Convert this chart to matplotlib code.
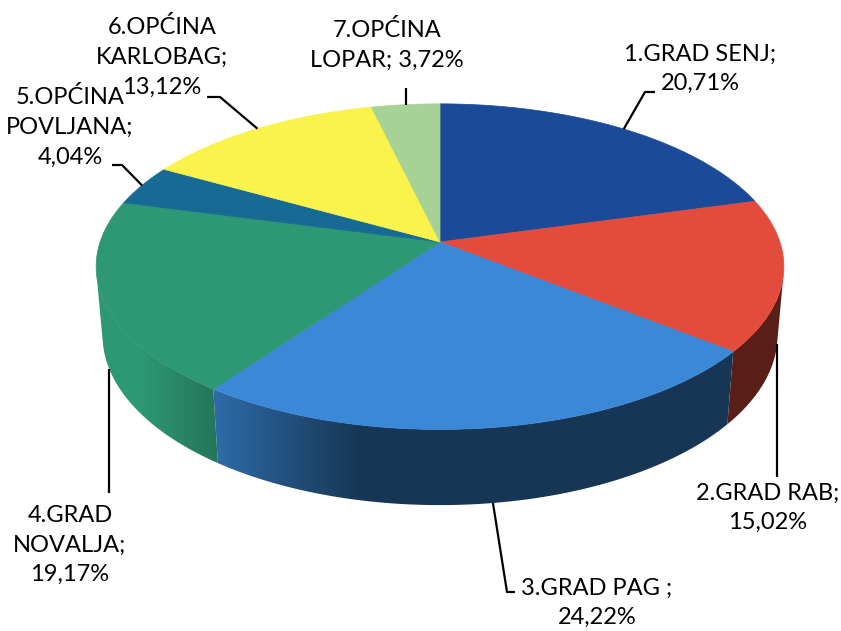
import numpy as np
import matplotlib.pyplot as plt
from matplotlib.patches import Polygon
from matplotlib.colors import to_rgb

plt.rcParams['font.family'] = ['Lato', 'DejaVu Sans']

# podaci
names = ["1.GRAD SENJ;", "2.GRAD RAB;", "3.GRAD PAG ;", "4.GRAD\nNOVALJA;",
         "5.OPĆINA\nPOVLJANA;", "6.OPĆINA\nKARLOBAG;", "7.OPĆINA\nLOPAR;"]
values = [20.71, 15.02, 24.22, 19.17, 4.04, 13.12, 3.72]
colors = ["#1b4a98", "#e34b3c", "#3b89d6", "#2e9874", "#166a94", "#faf34b", "#a6d395"]

# 3D pogled (perspektiva)
D = 5.84
phi = np.radians(27.9)
scale = 1985
cx, cy = 440, 242
thick = 0.23


def project(theta_deg, z):
    t = np.radians(theta_deg)
    X, Y = np.cos(t), np.sin(t)
    c, s = np.cos(phi), np.sin(phi)
    depth = D + Y * c - z * s
    sx = X / depth
    sy = (Y * s + z * c) / depth
    return cx + scale * sx, cy - scale * sy


def shade(col, theta_deg):
    rgb = np.array(to_rgb(col))
    light = np.clip((-np.cos(np.radians(theta_deg)) - 0.2) / 0.6, 0, 1)
    f = 0.4 + 0.6 * light
    return np.clip(rgb[None, :] * np.atleast_1d(f)[:, None], 0, 1)


fig = plt.figure(figsize=(8.41, 6.31), dpi=100)
ax = fig.add_axes([0, 0, 1, 1])

bounds = 90 - 3.6 * np.concatenate([[0], np.cumsum(values)])
vis = np.degrees(np.arcsin(1 / (D * np.cos(phi))))
vis_lo, vis_hi = -180 + vis, -vis

# x -> kut za prednju stranu
th_grid = np.linspace(vis_lo, vis_hi, 600)
x_grid = np.array([project(t, 0)[0] for t in th_grid])

# bocne strane
for i in range(len(values)):
    a0, a1 = bounds[i], bounds[i + 1]
    hi, lo = min(a0, vis_hi), max(a1, vis_lo)
    if hi <= lo:
        continue
    th = np.linspace(hi, lo, 200)
    pts = [project(t, 0) for t in th] + [project(t, -thick) for t in th[::-1]]
    poly = Polygon(pts, closed=True, facecolor='none', edgecolor='none')
    ax.add_patch(poly)
    xs = np.array([p[0] for p in pts])
    ys = np.array([p[1] for p in pts])
    x0, x1 = xs.min() - 2, xs.max() + 2
    cols = np.linspace(x0, x1, 300)
    th_cols = np.interp(cols, x_grid, th_grid)
    img = shade(colors[i], th_cols)[None, :, :]
    im = ax.imshow(img, extent=(x0, x1, ys.max() + 2, ys.min() - 2),
                   aspect='auto', interpolation='bilinear', zorder=1)
    im.set_clip_path(poly)

# gornje plohe
for i in range(len(values)):
    a0, a1 = bounds[i], bounds[i + 1]
    th = np.linspace(a0, a1, 120)
    pts = [(cx, cy)] + [project(t, 0) for t in th]
    ax.add_patch(Polygon(pts, closed=True, facecolor=colors[i],
                         edgecolor=colors[i], lw=0.5, zorder=2))

# oznake
front = [False, True, True, True, False, False, False]
text_pos = [(700, 69), (768, 508), (597, 603), (70, 545), (70, 127), (162, 57), (387, 45)]
leader = [[(645, 92), (655, 92)],
          [(None, 477)],
          [(507, 592), (515, 592)],
          [(None, 493)],
          [(122, 165), (112, 165)],
          [(220, 97), (207, 97)],
          [(None, 88)]]

for i in range(len(values)):
    mid = (bounds[i] + bounds[i + 1]) / 2
    ax0, ay0 = project(mid, -thick if front[i] else 0)
    xs, ys = [ax0], [ay0]
    for px, py in leader[i]:
        xs.append(ax0 if px is None else px)
        ys.append(py)
    ax.plot(xs, ys, color='black', lw=1.6, solid_capstyle='butt', zorder=3)
    val = f"{values[i]:.2f}".replace('.', ',') + "%"
    if i == 6:
        label = names[i] + " " + val
    else:
        label = names[i] + "\n" + val
    ax.text(text_pos[i][0], text_pos[i][1], label, ha='center', va='center',
            fontsize=17, color='black', linespacing=1.5, zorder=4)

ax.set_xlim(0, 841)
ax.set_ylim(631, 0)
ax.axis('off')

fig.savefig("out.png", dpi=100)
